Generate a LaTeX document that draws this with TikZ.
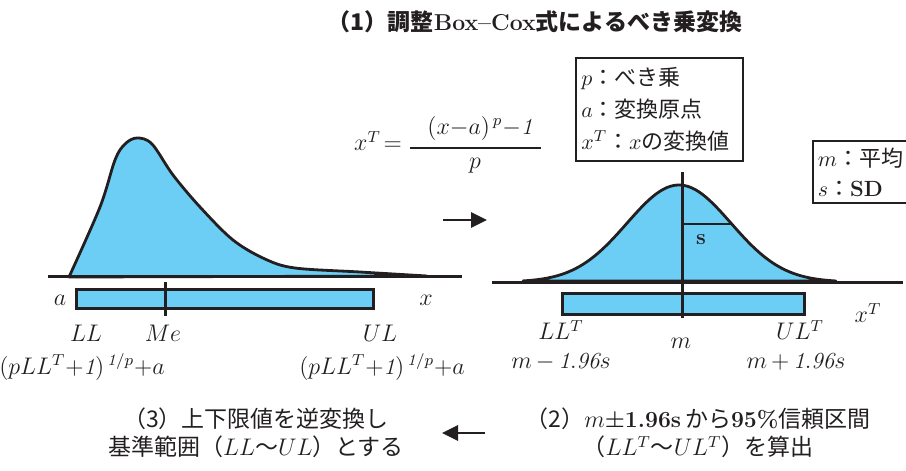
\documentclass[tikz,border=0pt]{standalone}
\usepackage{fontspec}
\usepackage{amsmath}
\newfontfamily\jp{Noto Sans CJK JP}
\usetikzlibrary{arrows.meta, positioning, calc}
\definecolor{distfill}{RGB}{108,206,244}
\definecolor{ink}{RGB}{35,31,32}

\begin{document}
\begin{tikzpicture}[
    x=0.5pt, y=-0.5pt, >=Triangle,
    curve/.style = {draw=ink, fill=distfill, line width=1.4pt, line join=round},
    axis/.style = {draw=ink, line width=1.5pt},
    bar/.style = {draw=ink, fill=distfill, line width=1.4pt},
    lbl/.style = {text=ink, inner sep=0pt, font=\fontsize{11.5}{14}\selectfont},
    legend/.style = {draw=ink, line width=0.9pt, text=ink, align=left, anchor=north west,
                     inner xsep=2.5pt, font=\fontsize{11}{16}\selectfont},
    stepnote/.style = {text=ink, align=center, inner sep=0pt, font=\fontsize{11.5}{14}\selectfont},
    flow/.style = {draw=ink, line width=1.4pt, -{Triangle[length=8pt,width=7.5pt]}}
]
    \useasboundingbox (0,0) rectangle (906,471);

    % title and Box-Cox formula
    \node [stepnote] (title) at (535,22) {{\jp\bfseries （1）調整}\textbf{Box–Cox}{\jp\bfseries 式によるべき乗変換}};
    \node [lbl] (xt) at (378,141) {$x^T\!=$};
    \node [lbl] (numer) at (480,128) {$(x{-}a)^{\,p}{-}\mathit{1}$};
    \node [lbl] (denom) at (475,166) {$p$};
    \coordinate (barl) at (410,148);
    \coordinate (barr) at (541,148);
    \draw [ink, line width=0.8pt] (barl) -- (barr);

    % legends
    \node [legend, minimum width=83.5pt, minimum height=51.5pt, text width=78pt] (powerkey) at (575,57)
        {$p${\jp ：べき乗}\\ $a${\jp ：変換原点}\\ $x^T${\jp ：}$x${\jp の変換値}};
    \node [legend, minimum height=30pt, text width=60pt, font=\fontsize{11}{15}\selectfont] (normkey) at (812,140)
        {$m${\jp ：平均}\\ $s${\jp ：}\textbf{SD}};

    % skewed distribution (original scale)
    \draw [curve] plot [smooth, tension=0.55] coordinates {(69,277) (100,207) (115,160) (125,144) (137,138)
        (152,144) (173,175) (200,207) (233,240) (265,259) (295,268) (360,272) (427,276)} -- cycle;
    \coordinate (lbase0) at (48,276);
    \coordinate (lbase1) at (462,276);
    \draw [axis] (lbase0) -- (lbase1);

    \node [bar, minimum width=148.5pt, minimum height=9.5pt, inner sep=0pt, anchor=north west] (rangebar) at (75,288) {};
    \coordinate (me0) at (165,282);
    \coordinate (me1) at (165,316);
    \draw [axis] (me0) -- (me1);

    \node [lbl] (la) at (60,300) {$a$};
    \node [lbl] (lx) at (426,300) {$x$};
    \node [lbl] (lLL) at (86,333) {$LL$};
    \node [lbl] (lMe) at (163,333) {$Me$};
    \node [lbl] (lUL) at (380,333) {$UL$};
    \node [lbl] (invlo) at (82,367) {$(pLL^T{+}\mathit{1})^{\,\mathit{1}/p}{+}a$};
    \node [lbl] (invhi) at (382,367) {$(pLL^T{+}\mathit{1})^{\,\mathit{1}/p}{+}a$};

    % normal distribution (transformed scale)
    \draw [curve] plot [domain=523:836, samples=90] (\x, {282-97*exp(-0.5*((\x-679)/52)*((\x-679)/52))}) -- cycle;
    \coordinate (rbase0) at (492,282);
    \coordinate (rbase1) at (903,282);
    \draw [axis] (rbase0) -- (rbase1);
    \coordinate (sd0) at (682,224);
    \coordinate (sd1) at (732,224);
    \draw [ink, line width=1.2pt] (sd0) -- (sd1);
    \node [lbl, font=\fontsize{11}{13}\selectfont\bfseries] (lsd) at (701,240) {s};

    \node [bar, minimum width=121pt, minimum height=10.5pt, inner sep=0pt, anchor=north west] (cibar) at (561,292) {};
    \coordinate (mean0) at (682,172);
    \coordinate (mean1) at (682,318);
    \draw [axis] (mean0) -- (mean1);

    \node [lbl] (lxT) at (868,313) {$x^T$};
    \node [lbl] (lLLT) at (561,330) {$LL^T$};
    \node [lbl] (lm) at (681,343) {$m$};
    \node [lbl] (lULT) at (800,330) {$UL^T$};
    \node [lbl] (cilo) at (561,362) {$m\,{-}\,\mathit{1.96}s$};
    \node [lbl] (cihi) at (796,362) {$m\,{+}\,\mathit{1.96}s$};

    % process arrows
    \coordinate (fwd0) at (443,220);
    \coordinate (fwd1) at (487,220);
    \draw [flow] (fwd0) -- (fwd1);
    \coordinate (back0) at (485,433);
    \coordinate (back1) at (442,433);
    \draw [flow] (back0) -- (back1);

    % step notes
    \node [stepnote] (step2) at (698,433)
        {{\jp （2）}$m$\textbf{±1.96s}\,{\jp から}\textbf{95\%}{\jp 信頼区間}\\
         {\jp （}$LL^T${\jp 〜}$UL^T${\jp ）を算出}};
    \node [stepnote] (step3) at (256,433)
        {{\jp （3）上下限値を逆変換し}\\
         {\jp 基準範囲（}$LL${\jp 〜}$UL${\jp ）とする}};
\end{tikzpicture}
\end{document}
